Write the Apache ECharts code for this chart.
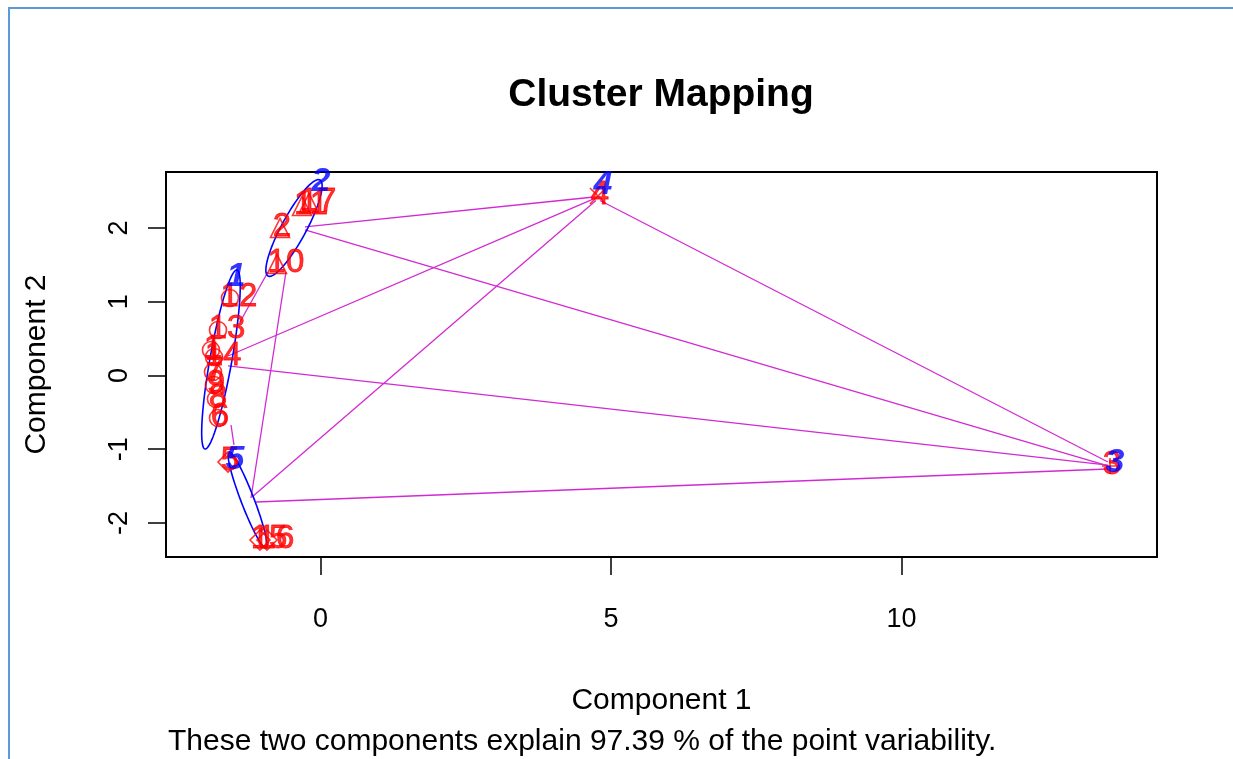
<!DOCTYPE html>
<html><head><meta charset="utf-8">
<script src="https://cdn.jsdelivr.net/npm/echarts@6/dist/echarts.min.js"></script>
<style>html,body{margin:0;padding:0;background:#fff}#c{width:1233px;height:759px}</style>
</head><body><div id="c"></div>
<script>
// ---- data (component coordinates) ----
const pointLabels  = ['1','2','3','4','5','6','7','8','9','10','11','12','13','14','15','16','17'];
const pointX       = [-1.885,-0.697,13.589,4.776,-1.592,-1.764,-1.850,-1.799,-1.833,-0.749,-0.318,-1.558,-1.764,-1.833,-1.041,-0.921,-0.198];
const pointY       = [0.346,2.000,-1.228,2.434,-1.173,-0.576,0.047,-0.319,-0.129,1.512,2.298,1.051,0.617,0.251,-2.231,-2.231,2.339];
const pointCluster = [1,2,3,4,5,1,1,1,1,2,2,1,1,1,5,5,2];

const clusterNames  = ['1','2','3','4','5'];
const clusterLabelX = [-1.454,0.009,13.675,4.862,-1.472];
const clusterLabelY = [1.336,2.624,-1.186,2.583,-1.146];

// ellipses: centre and two half-axis vectors (data units) for clusters 1, 2, 5
const ellipseCluster = [1,2,5];
const ellipseCX = [-1.713,-0.456,-1.256];
const ellipseCY = [0.217,2.000,-1.688];
const ellipseAX = [0.275,0.4475,0.318];
const ellipseAY = [1.214,0.651,-0.651];
const ellipseBX = [0.186,0.185,0.105];
const ellipseBY = [-0.026,-0.080,0.031];

// connecting segments between clusters
const segPairs = ['1-2','1-3','1-4','1-5','2-3','2-4','2-5','3-4','3-5','4-5'];
const segX1 = [-1.386,-1.592,-1.592,-1.540,-0.267,-0.267,-0.594,13.554,13.554,4.742];
const segY1 = [0.725,0.129,0.264,-0.671,1.973,2.014,1.403,-1.173,-1.268,2.373];
const segX2 = [-0.904,13.554,4.742,-1.489,13.554,4.707,-1.196,4.811,-1.110,-1.179];
const segY2 = [1.403,-1.214,2.407,-0.942,-1.227,2.420,-1.661,2.373,-1.715,-1.647];

const xTicks = [0,5,10];
const yTicks = [-2,-1,0,1,2];

const titleText = 'Cluster Mapping';
const xName = 'Component 1';
const yName = 'Component 2';
const subText = 'These two components explain 97.39 % of the point variability.';

// ---- styles ----
const FONT = 'Liberation Sans, Arial, sans-serif';
const RED = '#ff0000', BLUE = '#0000ff', MAG = '#d22ad2';
const symbolByCluster = {
  1: 'circle',
  2: 'triangle',
  3: 'path://M5,0L5,10M0,5L10,5',
  4: 'path://M0,0L10,10M0,10L10,0',
  5: 'diamond'
};
const sizeByCluster = {1:17, 2:19, 3:16, 4:16, 5:20};

const pointSeries = [1,2,3,4,5].map(function(c){
  const data = [];
  for (let i = 0; i < pointLabels.length; i++) {
    if (pointCluster[i] !== c) continue;
    const lab = pointLabels[i];
    data.push({name: lab, value: [pointX[i], pointY[i]],
      label: {offset: [lab.length > 1 ? 9 : 2, -1]}});
  }
  return {
    type: 'scatter', data: data, z: 3,
    symbol: symbolByCluster[c], symbolSize: sizeByCluster[c],
    itemStyle: {color: 'rgba(0,0,0,0)', borderColor: RED, borderWidth: 1.6},
    label: {show: true, position: 'inside', formatter: '{b}', color: RED,
            fontSize: 33, fontFamily: FONT, textBorderColor: RED, textBorderWidth: 0.8},
    emphasis: {disabled: true}, silent: true
  };
});

const ellipseData = ellipseCluster.map(function(c, i){
  return [ellipseCX[i], ellipseCY[i], ellipseAX[i], ellipseAY[i], ellipseBX[i], ellipseBY[i]];
});

const segData = segPairs.map(function(p, i){
  return {name: p, coords: [[segX1[i], segY1[i]], [segX2[i], segY2[i]]]};
});

const clusterLabelData = clusterNames.map(function(n, i){
  return {name: n, value: [clusterLabelX[i], clusterLabelY[i]]};
});

const chart = echarts.init(document.getElementById('c'), null, {renderer: 'canvas'});
chart.setOption({
  animation: false,
  backgroundColor: '#ffffff',
  title: [
    {text: titleText, left: 656, top: 71, textAlign: 'center',
     textStyle: {fontFamily: FONT, fontSize: 39, fontWeight: 'bold', color: '#000'}},
    {text: subText, left: 163, top: 722,
     textStyle: {fontFamily: FONT, fontSize: 30, fontWeight: 'normal', color: '#000'}}
  ],
  graphic: [
    {type: 'line', shape: {x1: 9, y1: 8, x2: 9, y2: 759}, style: {stroke: '#5b9bd5', lineWidth: 2}},
    {type: 'line', shape: {x1: 8, y1: 8, x2: 1233, y2: 8}, style: {stroke: '#5b9bd5', lineWidth: 2}}
  ],
  grid: {left: 166, top: 172, width: 991, height: 385, show: true,
         borderColor: '#000', borderWidth: 2, backgroundColor: 'transparent', containLabel: false},
  xAxis: {
    type: 'value', min: -2.659, max: 14.398,
    name: xName, nameLocation: 'middle', nameGap: 129,
    nameTextStyle: {fontFamily: FONT, fontSize: 30, color: '#000'},
    axisLine: {show: false, onZero: false},
    axisTick: {show: true, customValues: xTicks, length: 18, lineStyle: {color: '#000', width: 1.5}},
    axisLabel: {customValues: xTicks, margin: 49, fontFamily: FONT, fontSize: 27, color: '#000'},
    splitLine: {show: false}
  },
  yAxis: {
    type: 'value', min: -2.461, max: 2.759,
    name: yName, nameLocation: 'middle', nameGap: 114, nameRotate: 90,
    nameTextStyle: {fontFamily: FONT, fontSize: 30, color: '#000'},
    axisLine: {show: false, onZero: false},
    axisTick: {show: true, customValues: yTicks, length: 18, lineStyle: {color: '#000', width: 1.5}},
    axisLabel: {customValues: yTicks, rotate: 90, margin: 33, fontFamily: FONT, fontSize: 27, color: '#000'},
    splitLine: {show: false}
  },
  series: [
    {type: 'lines', coordinateSystem: 'cartesian2d', data: segData, z: 1,
     lineStyle: {color: MAG, width: 1.3, opacity: 1}, silent: true},
    {type: 'custom', data: ellipseData, z: 2, silent: true,
     renderItem: function(params, api){
       const cx = api.value(0), cy = api.value(1), ax = api.value(2), ay = api.value(3),
             bx = api.value(4), by = api.value(5);
       const pts = [];
       for (let k = 0; k <= 90; k++) {
         const t = k / 90 * 2 * Math.PI;
         pts.push(api.coord([cx + Math.cos(t) * ax + Math.sin(t) * bx,
                             cy + Math.cos(t) * ay + Math.sin(t) * by]));
       }
       return {type: 'polygon', shape: {points: pts},
               style: {fill: 'none', stroke: BLUE, lineWidth: 1.6}};
     }}
  ].concat(pointSeries).concat([
    {type: 'scatter', data: clusterLabelData, z: 5, symbolSize: 0, silent: true,
     label: {show: true, position: 'inside', formatter: '{b}', color: BLUE,
             fontSize: 34, fontWeight: 'bold', fontStyle: 'italic', fontFamily: FONT}}
  ])
});
</script>
</body></html>
